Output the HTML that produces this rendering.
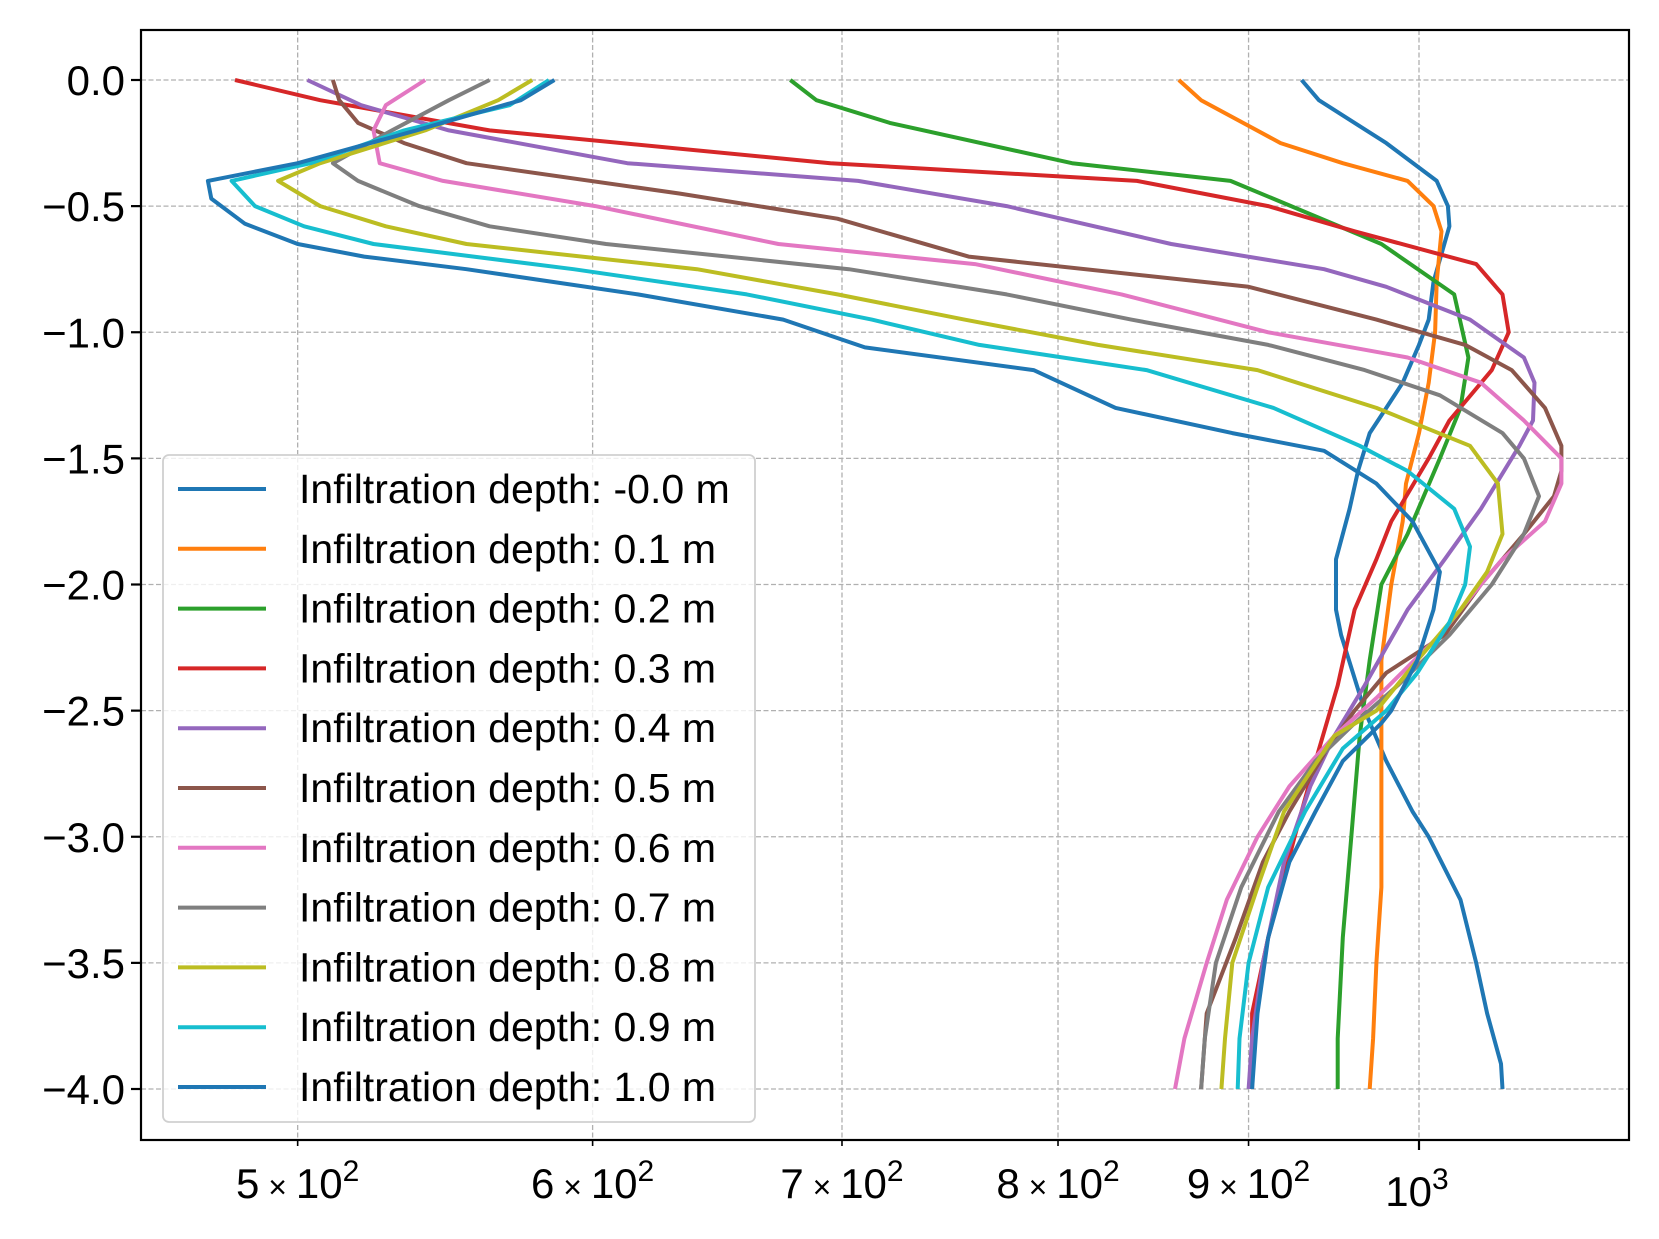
<!DOCTYPE html>
<html><head><meta charset="utf-8"><style>
html,body{margin:0;padding:0;background:#fff;}
svg{display:block;font-family:"Liberation Sans","DejaVu Sans",sans-serif;}
</style></head><body>
<svg id="chart" width="1659" height="1239" viewBox="0 0 1659 1239" xmlns="http://www.w3.org/2000/svg"></svg>
<script>
const seriesLabels = ["Infiltration depth: -0.0 m","Infiltration depth: 0.1 m","Infiltration depth: 0.2 m","Infiltration depth: 0.3 m","Infiltration depth: 0.4 m","Infiltration depth: 0.5 m","Infiltration depth: 0.6 m","Infiltration depth: 0.7 m","Infiltration depth: 0.8 m","Infiltration depth: 0.9 m","Infiltration depth: 1.0 m"];
const seriesColors = ["#1f77b4","#ff7f0e","#2ca02c","#d62728","#9467bd","#8c564b","#e377c2","#7f7f7f","#bcbd22","#17becf","#1f77b4"];
const yTicks = [0,-0.5,-1,-1.5,-2,-2.5,-3,-3.5,-4];
const yTickLabels = ["0.0","\u22120.5","\u22121.0","\u22121.5","\u22122.0","\u22122.5","\u22123.0","\u22123.5","\u22124.0"];
const xMinorTicks = [500,600,700,800,900];
const xMinorMant = ["5","6","7","8","9"];
const xMajorTicks = [1000];
// each series: [depth, value] pairs
const s0 = [[0,930],[-0.08,940],[-0.25,980],[-0.4,1011],[-0.5,1018],[-0.58,1019],[-0.8,1009],[-0.95,1006],[-1.05,1000],[-1.2,990],[-1.3,980],[-1.4,970],[-1.55,963],[-1.7,958],[-1.9,950],[-2.1,950],[-2.2,953],[-2.5,967],[-2.7,980],[-2.9,996],[-3.0,1006],[-3.25,1026],[-3.5,1036],[-3.7,1043],[-3.9,1052],[-4.0,1053]];
const s1 = [[0,862],[-0.08,874],[-0.25,918],[-0.33,954],[-0.4,993],[-0.5,1009],[-0.6,1014],[-0.8,1011],[-1.0,1010],[-1.2,1006],[-1.4,1000],[-1.6,992],[-1.75,990],[-2.0,983],[-2.3,977],[-2.5,977],[-2.8,977],[-3.2,977],[-3.5,974],[-3.8,972],[-4.0,970]];
const s2 = [[0,678],[-0.08,689],[-0.17,721],[-0.33,807],[-0.4,890],[-0.5,924],[-0.65,977],[-0.85,1022],[-1.1,1031],[-1.3,1026],[-1.5,1013],[-1.8,993],[-2.0,977],[-2.3,970],[-2.6,964],[-3.0,959],[-3.4,954],[-3.8,951],[-4.0,951]];
const s3 = [[0,481],[-0.08,507],[-0.2,563],[-0.33,695],[-0.4,840],[-0.5,911],[-0.6,961],[-0.73,1036],[-0.85,1053],[-1.0,1057],[-1.15,1046],[-1.35,1019],[-1.5,1006],[-1.75,983],[-1.9,974],[-2.1,961],[-2.4,951],[-2.7,938],[-3.0,926],[-3.4,911],[-3.7,902],[-4.0,902]];
const s4 = [[0,503],[-0.1,520],[-0.2,549],[-0.33,613],[-0.4,707],[-0.5,775],[-0.65,858],[-0.75,943],[-0.82,980],[-0.95,1032],[-1.1,1067],[-1.2,1074],[-1.35,1073],[-1.45,1064],[-1.7,1039],[-1.9,1016],[-2.1,993],[-2.4,967],[-2.6,949],[-2.8,935],[-3.1,920],[-3.5,908],[-3.8,902],[-4.0,900]];
const s5 = [[0,511],[-0.08,513],[-0.17,519],[-0.25,534],[-0.33,555],[-0.45,633],[-0.55,698],[-0.7,757],[-0.82,900],[-0.95,974],[-1.05,1029],[-1.15,1059],[-1.3,1081],[-1.45,1092],[-1.55,1092],[-1.65,1087],[-1.8,1067],[-2.0,1039],[-2.2,1016],[-2.35,980],[-2.5,961],[-2.65,945],[-2.9,923],[-3.1,908],[-3.4,893],[-3.7,877],[-4.0,874]];
const s6 = [[0,541],[-0.1,528],[-0.2,524],[-0.33,526],[-0.4,547],[-0.5,601],[-0.65,673],[-0.73,760],[-0.85,832],[-1.0,911],[-1.1,993],[-1.2,1039],[-1.35,1067],[-1.5,1092],[-1.6,1092],[-1.75,1081],[-1.9,1053],[-2.0,1039],[-2.2,1013],[-2.45,974],[-2.6,949],[-2.8,923],[-3.0,905],[-3.25,888],[-3.5,877],[-3.8,865],[-4.0,860]];
const s7 = [[0,563],[-0.08,549],[-0.2,530],[-0.33,511],[-0.4,519],[-0.5,539],[-0.58,563],[-0.65,605],[-0.75,703],[-0.85,775],[-0.95,837],[-1.05,911],[-1.15,967],[-1.25,1013],[-1.4,1053],[-1.5,1067],[-1.65,1077],[-1.8,1067],[-2.0,1046],[-2.2,1019],[-2.4,987],[-2.55,961],[-2.7,938],[-2.9,917],[-3.2,896],[-3.5,882],[-3.8,876],[-4.0,874]];
const s8 = [[0,578],[-0.08,566],[-0.2,541],[-0.33,507],[-0.4,494],[-0.5,507],[-0.58,528],[-0.65,555],[-0.75,640],[-0.85,698],[-0.95,755],[-1.05,820],[-1.15,905],[-1.3,974],[-1.45,1032],[-1.6,1050],[-1.8,1053],[-1.95,1043],[-2.1,1026],[-2.3,999],[-2.5,974],[-2.6,949],[-2.9,920],[-3.2,905],[-3.5,891],[-3.8,887],[-4.0,885]];
const s9 = [[0,584],[-0.1,570],[-0.2,534],[-0.33,504],[-0.4,480],[-0.5,487],[-0.58,502],[-0.65,524],[-0.75,593],[-0.85,660],[-0.95,713],[-1.05,762],[-1.15,845],[-1.3,914],[-1.45,964],[-1.55,993],[-1.7,1022],[-1.85,1032],[-2.0,1029],[-2.15,1019],[-2.35,999],[-2.5,980],[-2.65,954],[-2.9,932],[-3.2,911],[-3.5,900],[-3.8,895],[-4.0,894]];
const s10 = [[0,586],[-0.08,574],[-0.2,538],[-0.33,500],[-0.4,473],[-0.47,474],[-0.57,484],[-0.65,500],[-0.7,521],[-0.75,555],[-0.85,617],[-0.95,675],[-1.06,710],[-1.15,788],[-1.3,829],[-1.4,891],[-1.47,943],[-1.6,974],[-1.75,996],[-1.95,1013],[-2.1,1009],[-2.3,999],[-2.5,983],[-2.55,977],[-2.7,954],[-2.9,938],[-3.1,923],[-3.4,911],[-3.7,905],[-4.0,902]];
const allSeries = [s0,s1,s2,s3,s4,s5,s6,s7,s8,s9,s10];

const NS="http://www.w3.org/2000/svg";
const svg=document.getElementById('chart');
const L=141, R=1629, T=30, B=1140;
const Y0=80, Y4=1089;
const xRef=1419, decade=3725;
function xs(v){return xRef+Math.log10(v/1000)*decade;}
function ys(d){return Y0+(d-0)/(-4)*(Y4-Y0);}
function mk(tag,attrs){const e=document.createElementNS(NS,tag);for(const k in attrs)e.setAttribute(k,attrs[k]);svg.appendChild(e);return e;}

const gy=mk('g',{});


yTicks.forEach(t=>{const l=document.createElementNS(NS,'line');l.setAttribute('x1',L);l.setAttribute('x2',R);l.setAttribute('y1',ys(t));l.setAttribute('y2',ys(t));l.setAttribute('stroke','#b0b0b0');l.setAttribute('stroke-width','1.3');l.setAttribute('stroke-dasharray','5,2.5');gy.appendChild(l);});
xMinorTicks.concat(xMajorTicks).forEach(t=>{const l=document.createElementNS(NS,'line');l.setAttribute('y1',T);l.setAttribute('y2',B);l.setAttribute('x1',xs(t));l.setAttribute('x2',xs(t));l.setAttribute('stroke','#b0b0b0');l.setAttribute('stroke-width','1.3');l.setAttribute('stroke-dasharray','5,2.5');gy.appendChild(l);});

allSeries.forEach((s,i)=>{
  const p=mk('polyline',{points:s.map(q=>xs(q[1]).toFixed(1)+','+ys(q[0]).toFixed(1)).join(' '),fill:'none',stroke:seriesColors[i],'stroke-width':'4','stroke-linejoin':'round'});
  
  
});

const fr=mk('rect',{x:L,y:T,width:R-L,height:B-T,fill:'none',stroke:'#000','stroke-width':'2.2'});



yTicks.forEach((t,i)=>{
  mk('line',{x1:L-10,x2:L,y1:ys(t),y2:ys(t),stroke:'#000','stroke-width':'2.2'});
  const tx=mk('text',{x:L-16,y:ys(t)+15,'text-anchor':'end','font-size':'42',fill:'#000'});
  tx.textContent=yTickLabels[i];
  
  
});
xMinorTicks.forEach((t,i)=>{
  mk('line',{x1:xs(t),x2:xs(t),y1:B,y2:B+6,stroke:'#000','stroke-width':'1.6'});
  const tx=mk('text',{x:xs(t),y:B+58,'text-anchor':'middle','font-size':'42',fill:'#000'});
  tx.innerHTML=xMinorMant[i]+'<tspan font-size="32"> \u00d7 </tspan>10<tspan font-size="30" dy="-17">2</tspan>';
  
  
});
xMajorTicks.forEach(t=>{
  mk('line',{x1:xs(t),x2:xs(t),y1:B,y2:B+10,stroke:'#000','stroke-width':'2.2'});
  const tx=mk('text',{x:xs(t)-2,y:B+66,'text-anchor':'middle','font-size':'42',fill:'#000'});
  tx.innerHTML='10<tspan font-size="30" dy="-17">3</tspan>';
  
  
});

const lg=mk('rect',{x:163,y:455,width:592,height:667,rx:6,fill:'#fff','fill-opacity':'0.8',stroke:'#d0d0d0','stroke-width':'1.8'});


seriesLabels.forEach((lab,i)=>{
  const y=489+i*59.8;
  const ln=mk('line',{x1:178,x2:266,y1:y,y2:y,stroke:seriesColors[i],'stroke-width':'4'});
  
  
  const tx=mk('text',{x:299,y:y+14,'font-size':'41',fill:'#000'});
  tx.textContent=lab;
  
  
});
</script>
</body></html>
